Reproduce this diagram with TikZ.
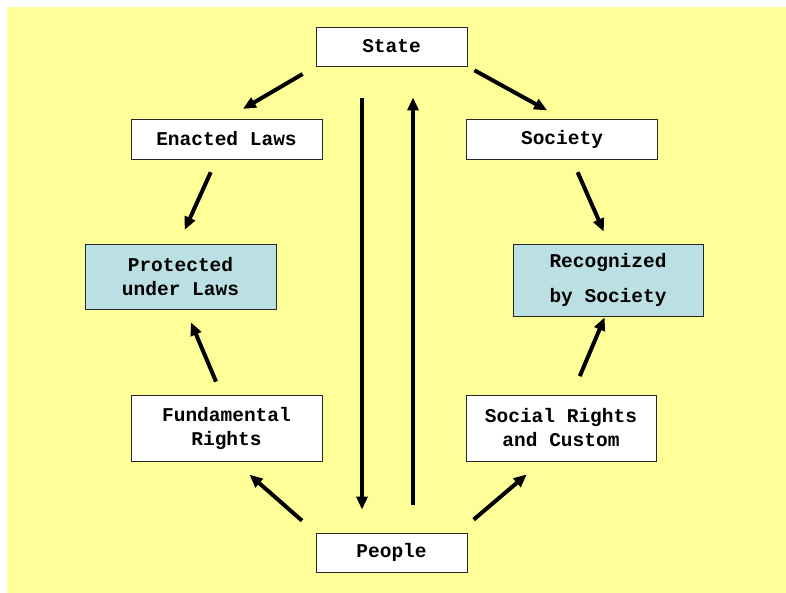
\documentclass[tikz,border=0pt]{standalone}
\usepackage{fontspec}
\newfontfamily\labelfont{Liberation Mono}
\usetikzlibrary{arrows.meta}
\definecolor{bgyellow}{RGB}{255,255,153}
\definecolor{boxblue}{RGB}{187,224,227}

\begin{document}
\begin{tikzpicture}[
	  x=1pt, y=-1pt,
	  box/.style = {shape=rectangle, draw=black!85, line width=0.9pt, align=center, fill=white, inner sep=0pt,
	    minimum width=191pt, font=\labelfont\bfseries\fontsize{19.5}{24}\selectfont},
	  result/.style = {box, fill=boxblue},
	  link/.style = {line width=4pt, -{Triangle[length=13pt,width=11pt]}}
	]
	  \useasboundingbox (0,0) rectangle (786,593);
	  \fill[bgyellow] (7,7) rectangle (786,593);

	  \node[box, minimum width=151pt, minimum height=39pt] (state) at (391.5,46.5) {State};
	  \node[box, minimum height=40pt] (enacted) at (226.5,139) {Enacted Laws};
	  \node[box, minimum height=40pt] (society) at (562,139) {Society};
	  \node[result, minimum height=65pt] (protected) at (180.5,276.5) {Protected\\under Laws};
	  \node[result, minimum width=190pt, minimum height=72pt] (recognized) at (608,280) {Recognized\\[11pt]by Society};
	  \node[box, minimum height=66pt] (fundamental) at (226.5,428) {Fundamental\\Rights};
	  \node[box, minimum width=190pt, minimum height=66pt] (social) at (561,428) {Social Rights\\and Custom};
	  \node[box, minimum width=151pt, minimum height=39pt] (people) at (391.5,552.5) {People};

	  \draw[link, shorten <=15pt, shorten >=19pt] (state.south west) -- (enacted.north);
	  \draw[link, shorten <=8pt, shorten >=17pt] (state.south east) -- (society.north);
	  \draw[link, shorten <=14pt, shorten >=15pt] ([xshift=-10pt]enacted.south) -- ([xshift=-2pt]protected.north);
	  \draw[link, shorten <=14pt, shorten >=13pt] ([xshift=10pt]society.south) -- ([xshift=1pt]recognized.north);
	  \draw[link, shorten <=14pt, shorten >=14pt] ([xshift=-5pt]fundamental.north) -- ([xshift=5pt]protected.south);
	  \draw[link, shorten <=20pt, shorten >=1pt] ([xshift=11pt]social.north) -- ([xshift=-3pt]recognized.south);
	  \draw[link, shorten <=18pt, shorten >=20pt] (people.north west) -- ([xshift=8pt]fundamental.south);
	  \draw[link, shorten <=20pt, shorten >=20pt] ([xshift=-9pt]people.north east) -- ([xshift=-19pt]social.south);
	  \draw[link, shorten <=32pt, shorten >=23pt] ([xshift=-29.5pt]state.south) -- ([xshift=-29.5pt]people.north);
	  \draw[link, shorten <=28pt, shorten >=31pt] ([xshift=21.5pt]people.north) -- ([xshift=21.5pt]state.south);
	\end{tikzpicture}
\end{document}
